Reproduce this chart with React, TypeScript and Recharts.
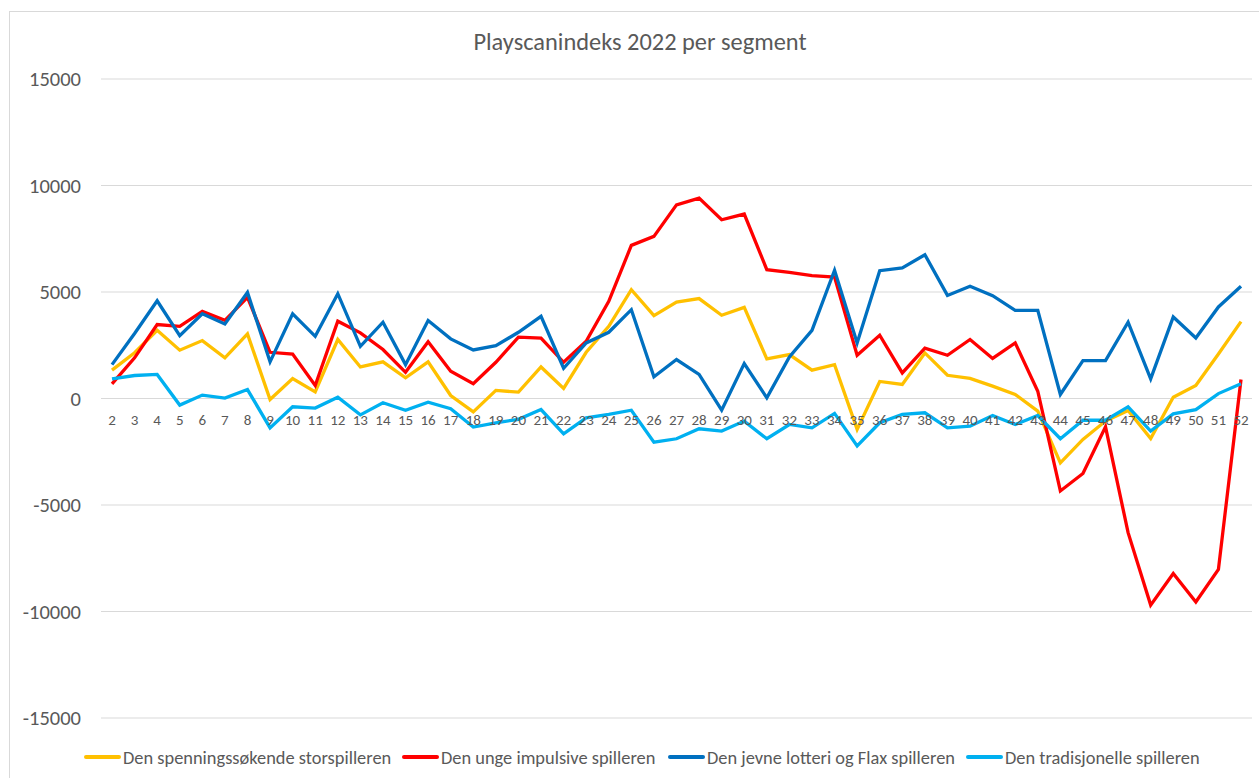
import React from 'react';
import { LineChart, Line, XAxis, YAxis, CartesianGrid, Legend } from 'recharts';

// weeks on the x axis
const weeks = [
  2, 3, 4, 5, 6, 7, 8, 9, 10, 11, 12, 13, 14, 15, 16, 17, 18, 19, 20, 21, 22, 23, 24, 25, 26, 27,
  28, 29, 30, 31, 32, 33, 34, 35, 36, 37, 38, 39, 40, 41, 42, 43, 44, 45, 46, 47, 48, 49, 50, 51, 52,
];

const spenningssokende = [
  1330, 2150, 3200, 2270, 2720, 1910, 3030, -50, 940, 310, 2770, 1480, 1720, 970, 1720, 140, -630,
  380, 300, 1480, 470, 2170, 3390, 5110, 3890, 4530, 4690, 3910, 4280, 1860, 2060, 1330, 1590, -1450,
  800, 660, 2140, 1090, 940, 580, 190, -590, -3020, -1920, -1060, -560, -1880, 60, 610, 2090, 3610,
];

const ungeImpulsive = [
  690, 1910, 3470, 3390, 4090, 3670, 4750, 2170, 2090, 610, 3630, 3080, 2300, 1230, 2660, 1280, 690,
  1700, 2880, 2830, 1700, 2690, 4560, 7190, 7610, 9090, 9410, 8390, 8660, 6050, 5920, 5770, 5700, 2030,
  2970, 1200, 2360, 2030, 2770, 1880, 2610, 340, -4340, -3520, -1330, -6300, -9700, -8220, -9550,
  -8020, 890,
];

const jevneLotteri = [
  1590, 3050, 4590, 2950, 3980, 3500, 4980, 1720, 3980, 2920, 4920, 2450, 3580, 1590, 3660, 2800,
  2280, 2480, 3110, 3860, 1420, 2610, 3110, 4170, 1020, 1830, 1130, -550, 1640, 30, 1950, 3200, 6020,
  2610, 6000, 6130, 6750, 4840, 5270, 4830, 4140, 4140, 190, 1780, 1780, 3580, 920, 3830, 2840, 4300,
  5270,
];

const tradisjonelle = [
  920, 1080, 1130, -310, 160, 20, 420, -1380, -390, -450, 60, -770, -200, -550, -170, -480, -1340,
  -1140, -980, -520, -1660, -910, -750, -550, -2050, -1890, -1420, -1530, -1060, -1890, -1220, -1380,
  -700, -2230, -1140, -750, -670, -1380, -1300, -800, -1220, -800, -1890, -1020, -1020, -390, -1530,
  -720, -520, 230, 690,
];

const yTicks = [-15000, -10000, -5000, 0, 5000, 10000, 15000];

const series = [
  { key: 'spenning', name: 'Den spenningssøkende storspilleren', color: '#FFC000', values: spenningssokende },
  { key: 'unge', name: 'Den unge impulsive spilleren', color: '#FF0000', values: ungeImpulsive },
  { key: 'jevne', name: 'Den jevne lotteri og Flax spilleren', color: '#0070C0', values: jevneLotteri },
  { key: 'tradisjonelle', name: 'Den tradisjonelle spilleren', color: '#00B0F0', values: tradisjonelle },
];

const data = weeks.map((week, i) => {
  const row: Record<string, number> = { week };
  series.forEach((s) => {
    row[s.key] = s.values[i];
  });
  return row;
});

const FONT = 'Carlito, Lato, sans-serif';
const TEXT = '#595959';
const CHART_W = 1249;
const CHART_H = 766;
const MARGIN = { top: 67, right: 7, left: 0, bottom: 0 };
const LEGEND_H = 59;
const X_AXIS_H = 1;
const PLOT_H = CHART_H - MARGIN.top - MARGIN.bottom - LEGEND_H - X_AXIS_H;

// x labels sit just under the zero line, like in Excel
const renderWeekTick = (props: any) => {
  const { x, y, payload } = props;
  return (
    <text x={x} y={y - PLOT_H / 2 + 26} textAnchor="middle" fill={TEXT} fontSize={15} fontFamily={FONT}>
      {payload.value}
    </text>
  );
};

const legendWidths = [318, 266, 298, 260];

const renderLegend = () => (
  <div style={{ height: LEGEND_H, display: 'flex', alignItems: 'flex-start', paddingLeft: 74, boxSizing: 'border-box' }}>
    {series.map((s, i) => (
      <div
        key={s.key}
        style={{ width: legendWidths[i], marginTop: 28, display: 'flex', alignItems: 'center', height: 20 }}
      >
        <span style={{ width: 37, height: 4, background: s.color, borderRadius: 2, marginRight: 2, flex: 'none' }} />
        <span style={{ fontFamily: FONT, fontSize: 18.4, color: TEXT, whiteSpace: 'nowrap' }}>{s.name}</span>
      </div>
    ))}
  </div>
);

const App: React.FC = () => {
  return (
    <div
      style={{
        position: 'absolute',
        left: 9,
        top: 11,
        width: 1250,
        height: 767,
        borderLeft: '1px solid #d9d9d9',
        borderTop: '1px solid #d9d9d9',
        boxSizing: 'border-box',
        background: '#fff',
      }}
    >
      <div
        style={{
          position: 'absolute',
          left: -10,
          width: 1280,
          top: 16,
          lineHeight: '28px',
          textAlign: 'center',
          fontFamily: FONT,
          fontSize: 24.4,
          color: TEXT,
        }}
      >
        Playscanindeks 2022 per segment
      </div>
      <LineChart width={CHART_W} height={CHART_H} data={data} margin={MARGIN}>
        <CartesianGrid vertical={false} stroke="#d9d9d9" strokeWidth={1} />
        <XAxis
          dataKey="week"
          height={X_AXIS_H}
          tickLine={false}
          axisLine={false}
          tickSize={0}
          tickMargin={0}
          interval={0}
          padding={{ left: 11, right: 11 }}
          tick={renderWeekTick}
        />
        <YAxis
          width={91}
          domain={[-15000, 15000]}
          ticks={yTicks}
          tickLine={false}
          axisLine={false}
          tickSize={0}
          tickMargin={20}
          tick={{ fill: TEXT, fontSize: 20.5, fontFamily: FONT }}
        />
        <Legend verticalAlign="bottom" height={LEGEND_H} content={renderLegend} />
        {series.map((s) => (
          <Line
            key={s.key}
            type="linear"
            dataKey={s.key}
            name={s.name}
            stroke={s.color}
            strokeWidth={3.3}
            dot={false}
            isAnimationActive={false}
          />
        ))}
      </LineChart>
    </div>
  );
};

export default App;
